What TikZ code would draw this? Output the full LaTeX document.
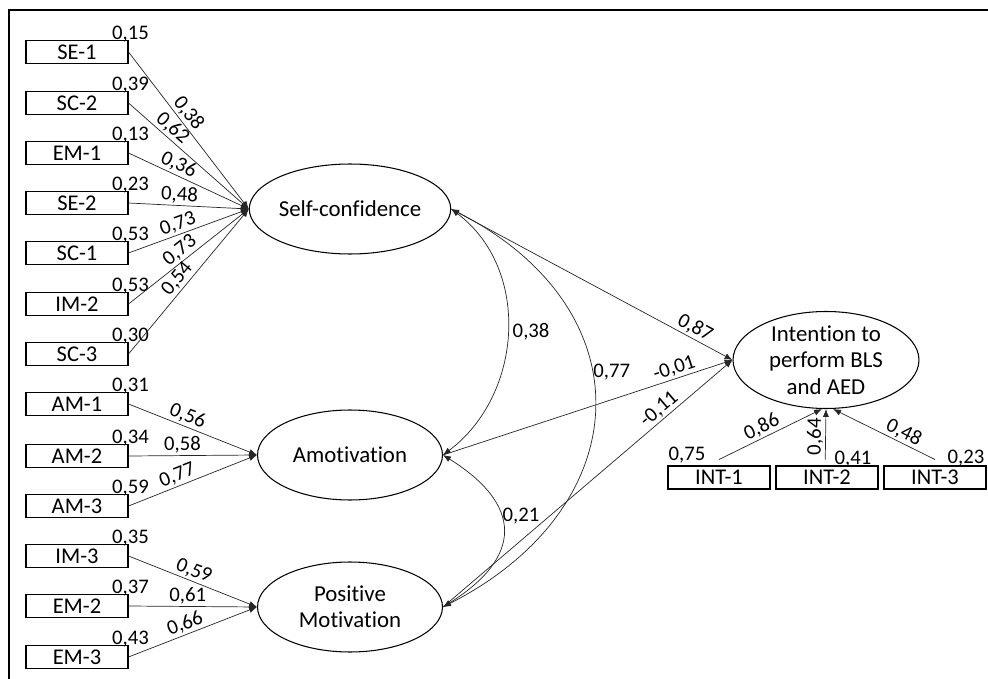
\documentclass[tikz,border=0pt]{standalone}
\usepackage{fontspec}
\setmainfont[Ligatures=NoCommon]{Carlito}
\usetikzlibrary{arrows.meta,shapes.geometric}
\begin{document}
\begin{tikzpicture}[x=0.02cm,y=-0.02cm,
 obs/.style={draw, line width=0.6pt, minimum width=2.04cm, minimum height=0.46cm, inner sep=0pt, font=\fontsize{12.8}{14}\selectfont},
 lat/.style={draw, ellipse, line width=0.6pt, minimum width=3.7cm, minimum height=1.8cm, inner sep=0pt, font=\fontsize{13}{15}\selectfont, align=center},
 conn/.style={line width=0.4pt, draw=black!85, -{Latex[length=4.5pt,width=3.5pt]}},
 cov/.style={line width=0.4pt, draw=black!85, {Latex[length=4.5pt,width=3.5pt]}-{Latex[length=4.5pt,width=3.5pt]}},
 coef/.style={font=\fontsize{11.8}{13}\selectfont, inner sep=1pt},
 varlab/.style={coef, anchor=base},
]
\useasboundingbox (0,0) rectangle (988,679);
\draw[line width=0.9pt] (9,679) -- (9,10) -- (988,10);

% observed indicators
\node[obs] (se1) at (77,52) {SE-1};
\node[obs] (sc2) at (77,103) {SC-2};
\node[obs] (em1) at (77,153) {EM-1};
\node[obs] (se2) at (77,203) {SE-2};
\node[obs] (sc1) at (77,253) {SC-1};
\node[obs] (im2) at (77,304) {IM-2};
\node[obs] (sc3) at (77,354) {SC-3};
\node[obs] (am1) at (77,404) {AM-1};
\node[obs] (am2) at (77,456) {AM-2};
\node[obs] (am3) at (77,506) {AM-3};
\node[obs] (im3) at (77,556) {IM-3};
\node[obs] (em2) at (77,606) {EM-2};
\node[obs] (em3) at (77,657) {EM-3};

% variances
\node[varlab] (vse1) at ([xshift=1.1pt]se1.north east) {0,15};
\node[varlab] (vsc2) at ([xshift=1.1pt]sc2.north east) {0,39};
\node[varlab] (vem1) at ([xshift=1.1pt]em1.north east) {0,13};
\node[varlab] (vse2) at ([xshift=1.1pt]se2.north east) {0,23};
\node[varlab] (vsc1) at ([xshift=1.1pt]sc1.north east) {0,53};
\node[varlab] (vim2) at ([xshift=1.1pt]im2.north east) {0,53};
\node[varlab] (vsc3) at ([xshift=1.1pt]sc3.north east) {0,30};
\node[varlab] (vam1) at ([xshift=1.1pt]am1.north east) {0,31};
\node[varlab] (vam2) at ([xshift=1.1pt]am2.north east) {0,34};
\node[varlab] (vam3) at ([xshift=1.1pt]am3.north east) {0,59};
\node[varlab] (vim3) at ([xshift=1.1pt]im3.north east) {0,35};
\node[varlab] (vem2) at ([xshift=1.1pt]em2.north east) {0,37};
\node[varlab] (vem3) at ([xshift=1.1pt]em3.north east) {0,43};

% latent variables
\node[lat] (sc) at (350,209) {Self-confidence};
\node[lat] (am) at (350,455) {Amotivation};
\node[lat] (pm) at (350,607) {Positive\\Motivation};
\node[lat, minimum width=3.72cm, minimum height=1.88cm] (it) at (826,360) {Intention to\\perform BLS\\and AED};

% intention indicators
\node[obs] (i1) at (719,477.5) {INT-1};
\node[obs] (i2) at (827,477.5) {INT-2};
\node[obs] (i3) at (935,477.5) {INT-3};
\node[varlab] (vi1) at (687,460) {0,75};
\node[varlab] (vi2) at (853,464) {0,41};
\node[varlab] (vi3) at (966,463) {0,23};

% loadings on Self-confidence
\draw[conn] (se1.east) -- node[coef,sloped,above,pos=0.43] {0,38} (sc.west);
\draw[conn] (sc2.east) -- node[coef,sloped,above,pos=0.31] {0,62} (sc.west);
\draw[conn] (em1.east) -- node[coef,sloped,above,pos=0.38] {0,36} (sc.west);
\draw[conn] (se2.east) -- node[coef,sloped,above,pos=0.42] {0,48} (sc.west);
\draw[conn] (sc1.east) -- node[coef,sloped,above,pos=0.44] {0,73} (sc.west);
\draw[conn] (im2.east) -- node[coef,sloped,above,pos=0.48] {0,73} (sc.west);
\draw[conn] (sc3.east) -- node[coef,sloped,above,pos=0.47] {0,54} (sc.west);

% loadings on Amotivation
\draw[conn] (am1.east) -- node[coef,sloped,above,pos=0.43] {0,56} (am.west);
\draw[conn] (am2.east) -- node[coef,sloped,above,pos=0.42] {0,58} (am.west);
\draw[conn] (am3.east) -- node[coef,sloped,above,pos=0.41] {0,77} (am.west);

% loadings on Positive Motivation
\draw[conn] (im3.east) -- node[coef,sloped,above,pos=0.48] {0,59} (pm.west);
\draw[conn] (em2.east) -- node[coef,sloped,above,pos=0.46] {0,61} (pm.west);
\draw[conn] (em3.east) -- node[coef,sloped,above,pos=0.47] {0,66} (pm.west);

% structural paths
\draw[conn] (sc.east) -- node[coef,sloped,above,pos=0.85] {0,87} (it.west);
\draw[conn] (am.east) -- node[coef,sloped,above,pos=0.81] {-0,01} (it.west);
\draw[conn] (pm.east) -- node[coef,sloped,above,pos=0.77] {-0,11} (it.west);

% covariances
\draw[cov] (sc.east) .. controls +(80,60) and +(80,-60) .. node[coef,right,pos=0.5,xshift=2pt] {0,38} (am.east);
\draw[cov] (sc.east) .. controls +(196,100) and +(196,-100) .. node[coef,right,pos=0.42] {0,77} (pm.east);
\draw[cov] (am.east) .. controls +(80,50) and +(80,-50) .. node[coef,right,pos=0.4] {0,21} (pm.east);

% intention loadings
\draw[conn] ([yshift=3.4pt]i1.north) -- node[coef,sloped,above,pos=0.46] {0,86} ([xshift=-2.3pt]it.south);
\draw[conn] ([xshift=-1pt,yshift=3.4pt]i2.north) -- node[coef,sloped,above,pos=0.45] {0,64} (it.south);
\draw[conn] ([yshift=3.4pt]i3.north) -- node[coef,sloped,above,pos=0.35] {0,48} ([xshift=4pt]it.south);
\end{tikzpicture}
\end{document}
